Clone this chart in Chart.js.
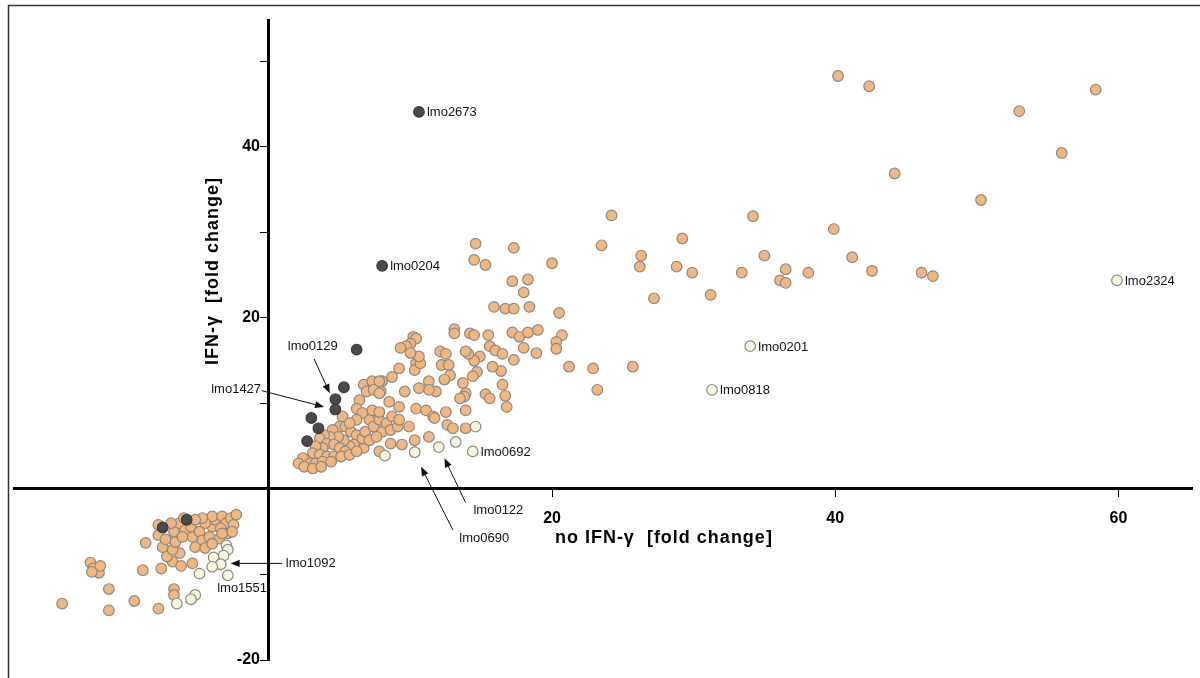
<!DOCTYPE html>
<html>
<head>
<meta charset="utf-8">
<script src="https://cdn.jsdelivr.net/npm/chart.js@4.4.1/dist/chart.umd.min.js"></script>
<style>
  html, body { margin: 0; padding: 0; background: #fff; }
  #wrap { width: 1200px; height: 678px; position: relative; }
</style>
</head>
<body>
<div id="wrap"><canvas id="foldChart"></canvas></div>
<script>
// induced genes (orange)
const upX = [40.2, 42.4, 58.4, 53.0, 56.0, 44.2, 50.3, 24.2, 34.2, 39.9, 23.5, 29.2, 26.3, 26.2, 28.8, 29.9, 33.4, 35.0, 36.5, 36.1,
  36.5, 38.1, 41.2, 42.6, 46.1, 46.9, 27.2, 31.2, 21.2, 22.9, 25.7, 23.2, 20.5, 20.7, 14.6, 17.3, 14.5, 15.3, 20.0, 17.2,
  18.3, 18.0, 15.9, 16.7, 17.3, 18.4, 13.1, 13.1, 14.2, 14.5, 15.5, 17.2, 17.7, 18.3, 19.0, 20.3, 20.3, 18.0, 18.9, 17.3,
  16.4, 16.5, 16.7, 15.3, 15.6, 16.0, 16.5, 14.9, 14.5, 14.7, 14.4, 14.1, 13.9, 13.7, 13.9, 12.1, 12.5, 12.2, 12.7, 12.8,
  12.4, 11.3, 11.8, 11.3, 10.6, 9.6, 10.4, 10.3, 10.7, 10.6, 10.2, 10.4, 10.0, 9.7, 9.3, 10.0, 9.2, 8.7, 8.0, 7.9,
  13.8, 15.8, 6.7, 7.3, 7.8, 6.9, 7.4, 7.8, 6.4, 6.2, 8.5, 9.2, 10.4, 11.1, 11.6, 12.5, 12.6, 13.0, 13.9, 13.9,
  10.3, 11.3, 9.4, 8.6, 7.8, 6.7, 15.6, 16.8, 13.5, 11.7,
  5.2, 5.0, 4.5, 5.4, 5.8, 6.2, 6.6, 6.0, 5.7, 5.3, 4.9, 4.3, 3.9, 3.6, 4.1, 4.6, 5.0, 5.4, 3.8, 3.3,
  3.1, 3.6, 4.1, 4.6, 2.6, 2.4, 2.9, 3.3, 3.8, 4.4, 5.1, 5.7, 6.2, 6.8, 7.1, 7.4, 7.8, 8.0, 8.3, 8.6,
  8.7, 9.1, 9.2, 9.9, 7.1, 7.6, 7.3, 7.8, 6.6, 6.2, 5.7, 2.1, 2.5, 3.1, 3.7];
const upY = [48.3, 47.1, 46.7, 44.2, 39.3, 36.9, 33.8, 32.0, 31.9, 30.4, 28.5, 29.3, 27.3, 26.0, 26.0, 25.3, 25.3, 27.3, 25.7, 24.4,
  24.1, 25.3, 27.1, 25.5, 25.3, 24.9, 22.3, 22.7, 14.3, 14.1, 14.3, 11.6, 20.6, 18.0, 28.7, 28.2, 26.8, 26.2, 26.4, 24.3,
  24.5, 23.0, 21.3, 21.1, 21.1, 21.3, 18.7, 18.2, 18.2, 18.0, 18.0, 18.3, 17.8, 18.3, 18.6, 17.2, 16.4, 16.5, 15.9, 15.1,
  13.8, 12.2, 10.9, 11.1, 16.7, 16.2, 15.8, 15.5, 15.0, 13.7, 13.2, 15.8, 16.1, 12.4, 11.2, 16.1, 15.8, 14.5, 14.5, 13.3,
  12.8, 12.6, 11.4, 11.6, 11.8, 11.4, 14.7, 13.9, 14.7, 15.5, 17.8, 17.6, 17.0, 16.7, 16.5, 15.9, 14.1, 13.1, 12.6, 11.4,
  10.8, 14.3, 12.2, 12.6, 12.6, 11.4, 11.6, 11.2, 10.4, 9.4, 10.2, 9.6, 9.4, 9.2, 8.5, 9.0, 7.5, 7.1, 9.2, 7.1,
  5.7, 6.1, 5.2, 5.3, 4.4, 4.8, 10.6, 9.6, 10.6, 8.3,
  8.5, 7.3, 6.9, 7.3, 6.7, 6.3, 5.9, 5.2, 5.0, 5.7, 6.1, 6.1, 6.3, 5.9, 5.3, 5.2, 4.8, 4.4, 4.8, 5.0,
  4.2, 4.0, 3.8, 3.8, 3.4, 3.6, 3.0, 3.0, 3.2, 3.2, 3.8, 4.0, 4.4, 6.7, 8.1, 7.3, 8.1, 6.7, 7.7, 6.9,
  8.5, 7.3, 8.1, 7.3, 5.7, 6.1, 9.2, 9.0, 8.9, 8.1, 7.7, 3.0, 2.6, 2.4, 2.6];

// repressed genes (orange)
const downX = [-14.6, -11.3, -11.3, -9.5, -7.8, -12.6, -12.4, -12.0, -12.5, -11.9, -8.7, -8.9, -7.6, -6.7, -6.7, -6.8, -6.2, -5.4, -7.2, -6.3,
  -6.8, -7.5, -7.8, -7.3, -6.6, -6.7, -6.3, -5.9, -5.4, -5.5, -4.9, -4.7, -5.2, -4.5, -4.2, -4.0, -3.8, -4.0, -3.3, -3.0,
  -3.4, -2.7, -2.5, -2.9, -3.5, -4.0, -2.6, -2.3, -4.5, -4.7, -5.2, -6.0, -6.9, -7.8, -6.1, -3.3];
const downY = [-13.4, -11.7, -14.2, -13.1, -14.0, -8.6, -9.3, -9.8, -9.7, -9.0, -6.3, -9.5, -9.3, -11.7, -12.4, -8.5, -9.0, -8.7, -7.9, -7.5,
  -7.1, -6.8, -5.4, -5.9, -6.2, -5.0, -4.0, -4.8, -5.6, -4.4, -5.0, -6.0, -6.8, -6.9, -5.6, -4.4, -3.6, -3.2, -3.2, -4.0,
  -4.6, -3.4, -4.2, -5.2, -5.8, -6.4, -5.0, -3.0, -4.0, -3.4, -3.6, -3.4, -4.0, -4.2, -5.6, -5.2];

// dark grey genes
const darkX = [10.6, 8.0, 6.2, 5.3, 4.7, 4.7, 3.0, 3.5, 2.7, -7.5, -5.8];
const darkY = [44.1, 26.1, 16.3, 11.9, 10.5, 9.3, 8.3, 7.1, 5.6, -4.5, -3.6];

// pale genes
const lightX = [8.2, 10.3, 12.0, 13.2, 14.6, 14.4, 34.0, 31.3, 59.9,
  -3.0, -2.9, -3.2, -3.9, -3.4, -4.0, -2.9, -4.9, -5.2, -5.5, -6.5];
const lightY = [3.9, 4.3, 4.9, 5.5, 7.3, 4.4, 16.7, 11.6, 24.4,
  -6.6, -7.1, -7.8, -8.0, -8.8, -9.1, -10.1, -9.9, -12.4, -12.9, -13.4];

// named genes, label right of the point
const sideTags = ['lmo2673', 'lmo0204', 'lmo0692', 'lmo0201', 'lmo0818', 'lmo2324'];
const sideTagX = [10.6, 8.0, 14.4, 34.0, 31.3, 59.9];
const sideTagY = [44.1, 26.1, 4.4, 16.7, 11.6, 24.4];

// named genes with pointer arrows
const arrowTags = ['lmo0129', 'lmo1427', 'lmo0122', 'lmo0690', 'lmo1092', 'lmo1551'];

const xTicks = [20, 40, 60];
const yTicks = [-20, -10, 10, 20, 30, 40, 50];
const yTickLabels = [-20, 20, 40];

const xTitle = 'no IFN-\u03b3  [fold change]';
const yTitle = 'IFN-\u03b3  [fold change]';

const toPts = (xs, ys) => xs.map((v, i) => ({ x: v, y: ys[i] }));

// where the arrow labels sit (text anchor, arrow start, arrow tip), in axis units
const arrowLayout = {
  lmo0129: { tx: 3.1, ty: 16.7, align: 'center', from: [3.2, 15.2], to: [4.3, 11.2] },
  lmo1427: { tx: -0.55, ty: 11.6, align: 'right', from: [-0.5, 11.5], to: [3.9, 9.6] },
  lmo0122: { tx: 14.45, ty: -2.45, align: 'left', from: [13.9, -1.6], to: [12.4, 3.6] },
  lmo0690: { tx: 13.45, ty: -5.75, align: 'left', from: [13.0, -4.8], to: [10.75, 2.6] },
  lmo1092: { tx: 1.2, ty: -8.7, align: 'left', from: [0.95, -8.7], to: [-2.7, -8.7] },
  lmo1551: { tx: -3.65, ty: -11.6, align: 'left', from: null, to: null }
};

function arrow(ctx, x1, y1, x2, y2) {
  const a = Math.atan2(y2 - y1, x2 - x1);
  const len = 9, half = 3.6;
  ctx.beginPath();
  ctx.moveTo(x1, y1);
  ctx.lineTo(x2 - Math.cos(a) * len * 0.8, y2 - Math.sin(a) * len * 0.8);
  ctx.stroke();
  ctx.beginPath();
  ctx.moveTo(x2, y2);
  ctx.lineTo(x2 - Math.cos(a) * len - Math.sin(a) * half, y2 - Math.sin(a) * len + Math.cos(a) * half);
  ctx.lineTo(x2 - Math.cos(a) * len + Math.sin(a) * half, y2 - Math.sin(a) * len - Math.cos(a) * half);
  ctx.closePath();
  ctx.fill();
}

const decor = {
  id: 'decor',
  afterDraw(chart) {
    const { ctx } = chart;
    const sx = chart.scales.x, sy = chart.scales.y;
    ctx.save();

    // picture frame
    ctx.strokeStyle = '#333';
    ctx.lineWidth = 1.5;
    ctx.beginPath();
    ctx.moveTo(8.5, chart.height);
    ctx.lineTo(8.5, 5.5);
    ctx.lineTo(chart.width, 5.5);
    ctx.stroke();

    // axis titles
    ctx.fillStyle = '#000';
    ctx.font = 'bold 18px "Liberation Sans", Arial, sans-serif';
    ctx.letterSpacing = '1px';
    ctx.textAlign = 'center';
    ctx.textBaseline = 'middle';
    ctx.fillText(xTitle, sx.getPixelForValue(27.9), sy.getPixelForValue(-5.7));
    ctx.save();
    ctx.translate(sx.getPixelForValue(0) - 56, sy.getPixelForValue(25.5));
    ctx.rotate(-Math.PI / 2);
    ctx.fillText(yTitle, 0, 0);
    ctx.restore();
    ctx.letterSpacing = '0px';

    // gene labels
    ctx.font = '13px "Liberation Sans", Arial, sans-serif';
    ctx.fillStyle = '#111';
    ctx.strokeStyle = '#111';
    ctx.lineWidth = 1;
    ctx.textAlign = 'left';
    sideTags.forEach((name, i) => {
      ctx.fillText(name, sx.getPixelForValue(sideTagX[i]) + 8, sy.getPixelForValue(sideTagY[i]) + 1);
    });
    arrowTags.forEach(name => {
      const l = arrowLayout[name];
      ctx.textAlign = l.align;
      ctx.fillText(name, sx.getPixelForValue(l.tx), sy.getPixelForValue(l.ty));
      if (l.from) {
        arrow(ctx, sx.getPixelForValue(l.from[0]), sy.getPixelForValue(l.from[1]),
          sx.getPixelForValue(l.to[0]), sy.getPixelForValue(l.to[1]));
      }
    });
    ctx.restore();
  }
};

const dotStyle = { pointRadius: 5.3, pointHoverRadius: 5.3, borderWidth: 1.2 };

new Chart(document.getElementById('foldChart'), {
  type: 'scatter',
  data: {
    datasets: [
      { label: 'grey', data: toPts(darkX, darkY), backgroundColor: '#4a4a4c', borderColor: '#3a3a3a', ...dotStyle },
      { label: 'pale', data: toPts(lightX, lightY), backgroundColor: '#f6f6df', borderColor: '#8a8a7e', ...dotStyle },
      { label: 'up', data: toPts(upX, upY), backgroundColor: '#f2b77e', borderColor: '#8c8985', ...dotStyle },
      { label: 'down', data: toPts(downX, downY), backgroundColor: '#f2b77e', borderColor: '#8c8985', ...dotStyle }
    ]
  },
  options: {
    responsive: true,
    maintainAspectRatio: false,
    animation: false,
    layout: { padding: { left: 14, right: 8, top: 20, bottom: 18 } },
    plugins: {
      legend: { display: false },
      tooltip: { enabled: false }
    },
    scales: {
      x: {
        type: 'linear',
        min: -18,
        max: 65.2,
        position: { y: 0 },
        afterBuildTicks: s => { s.ticks = xTicks.map(v => ({ value: v })); },
        grid: { drawOnChartArea: false, drawTicks: true, tickLength: 7, tickWidth: 1, tickColor: '#000' },
        border: { color: '#000', width: 3 },
        ticks: {
          color: '#000',
          padding: 13,
          maxRotation: 0,
          autoSkip: false,
          font: { family: '"Liberation Sans", Arial, sans-serif', size: 16, weight: 'bold' }
        }
      },
      y: {
        type: 'linear',
        min: -20,
        max: 54.85,
        position: { x: 0 },
        afterBuildTicks: s => { s.ticks = yTicks.map(v => ({ value: v })); },
        grid: { drawOnChartArea: false, drawTicks: true, tickLength: 7, tickWidth: 1, tickColor: '#000' },
        border: { color: '#000', width: 3 },
        ticks: {
          color: '#000',
          padding: 3,
          autoSkip: false,
          // labels sit right on the crossing axis, trailing spaces leave a gap
          callback: v => (yTickLabels.includes(v) ? String(v) + '  ' : ''),
          font: { family: '"Liberation Sans", Arial, sans-serif', size: 16, weight: 'bold' }
        }
      }
    }
  },
  plugins: [decor]
});
</script>
</body>
</html>
